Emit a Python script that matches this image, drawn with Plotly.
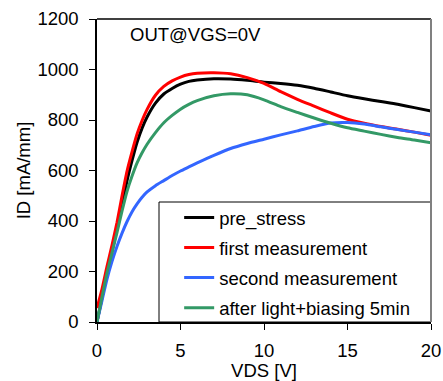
import plotly.graph_objects as go

# Output characteristics ID-VDS at VGS = 0 V
vds = [0, 0.3, 0.6, 0.9, 1.2, 1.5, 1.8, 2.1, 2.4, 2.7, 3.0, 3.5, 4.0, 4.5,
       5.0, 5.5, 6.0, 7, 8, 9, 10, 11, 12, 13, 14, 15, 16, 17, 18, 19, 20]

pre_stress = [0, 95, 195, 280, 370, 465, 560, 640, 712, 768, 812, 867, 903, 925,
              942, 953, 958, 963, 962, 957, 950, 945, 938, 926, 911, 896, 884, 873, 862, 849, 836]
first_meas = [55, 130, 220, 305, 395, 500, 598, 675, 745, 798, 842, 898, 933, 955,
              970, 980, 985, 987, 983, 968, 945, 912, 882, 855, 828, 803, 787, 774, 763, 752, 740]
second_meas = [0, 85, 170, 240, 300, 352, 398, 437, 468, 494, 515, 540, 560, 580,
               598, 614, 630, 660, 687, 707, 724, 741, 757, 774, 788, 790, 784, 773, 762, 752, 742]
after_light = [0, 100, 195, 275, 355, 440, 518, 578, 630, 670, 704, 750, 789, 818,
               843, 862, 877, 896, 904, 900, 880, 853, 830, 808, 787, 769, 756, 743, 731, 721, 710]

series = [
    ("pre_stress", pre_stress, "#000000"),
    ("first measurement", first_meas, "#FF0000"),
    ("second measurement", second_meas, "#3366FF"),
    ("after light+biasing 5min", after_light, "#339966"),
]

FONT = "Liberation Sans, Arial, sans-serif"
FS = 18.5

fig = go.Figure()
for i, (name, vals, col) in enumerate(series):
    fig.add_trace(go.Scatter(
        x=vds, y=vals, name=name, mode="lines",
        line=dict(color=col, width=3, shape="spline", smoothing=0.6),
        legendgroup=str(i),
    ))

fig.update_layout(
    width=443, height=381,
    margin=dict(l=97, r=12, t=19, b=59),
    paper_bgcolor="white", plot_bgcolor="white",
    font=dict(family=FONT, size=FS, color="black"),
    showlegend=True,
    legend=dict(
        x=0.246, y=0.406, xanchor="left", yanchor="top",
        bgcolor="rgba(0,0,0,0)", borderwidth=0,
        font=dict(family=FONT, size=FS, color="black"),
        tracegroupgap=3, itemwidth=30,
    ),
    xaxis=dict(
        range=[0, 20], dtick=5, tick0=0, automargin=False,
        showgrid=False, zeroline=False,
        showline=True, linecolor="black", linewidth=1.5,
        ticks="outside", ticklen=6, tickcolor="black",
        ticklabelstandoff=5,
        title=dict(text="VDS [V]", standoff=0, font=dict(size=FS)),
    ),
    yaxis=dict(
        range=[0, 1200], dtick=200, tick0=0, automargin=False,
        showgrid=False, zeroline=False,
        showline=True, linecolor="black", linewidth=1.5,
        ticks="outside", ticklen=6, tickcolor="black",
        ticklabelstandoff=7,
        title=dict(text="ID [mA/mm]", standoff=2, font=dict(size=FS)),
    ),
)

# Plot frame: top edge black, right edge gray
fig.add_shape(type="line", xref="paper", yref="paper", x0=0, x1=1, y0=1, y1=1,
              line=dict(color="black", width=1.5))
fig.add_shape(type="line", xref="paper", yref="paper", x0=1, x1=1, y0=0, y1=1,
              line=dict(color="#808080", width=2))

# Legend frame
fig.add_shape(type="rect", xref="paper", yref="paper",
              x0=(159 - 97) / 334, x1=1, y0=0, y1=(322 - 202) / 303,
              line=dict(color="black", width=1), fillcolor="white", layer="below")

fig.add_annotation(
    text="OUT@VGS=0V", xref="paper", yref="paper",
    x=(128 - 97) / 334, y=(322 - 35) / 303, xanchor="left", yanchor="middle",
    showarrow=False, font=dict(family=FONT, size=FS, color="black"),
)

fig.write_html("out.html")
